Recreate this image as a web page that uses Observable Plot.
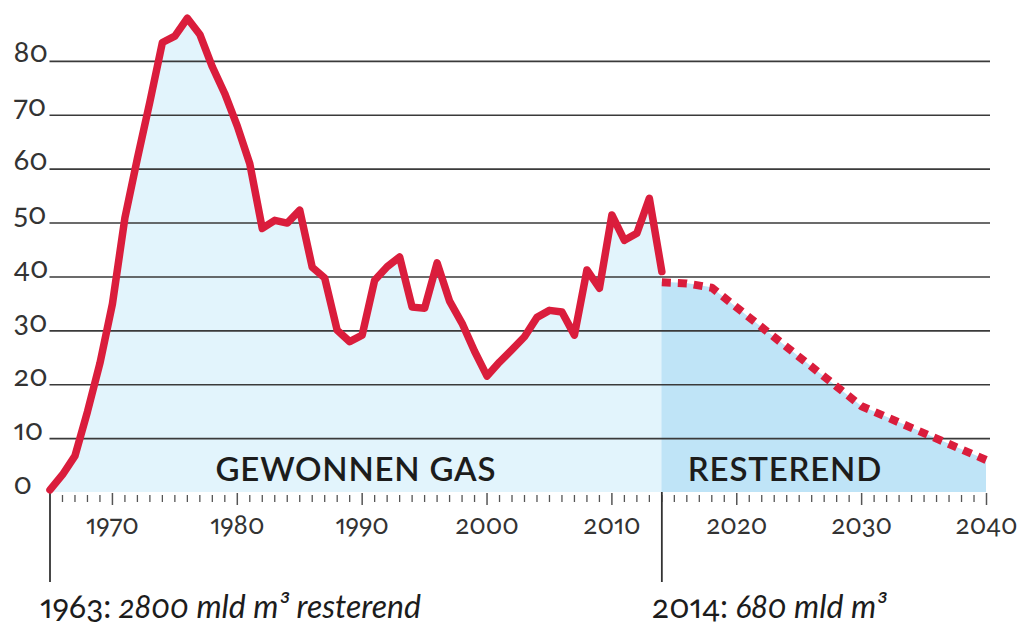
<!DOCTYPE html>
<html>
<head>
<meta charset="utf-8">
<script src="https://cdn.jsdelivr.net/npm/d3@7"></script>
<script src="https://cdn.jsdelivr.net/npm/@observablehq/plot@0.6"></script>
<style>
  html, body { margin: 0; padding: 0; background: #fff; }
  svg text { font-variant-numeric: oldstyle-nums proportional-nums; }
</style>
</head>
<body>
<div id="chart"></div>
<script>
// Historic production (mld m³ per year)
const histYears = d3.range(1965, 2015);
const histValues = [
  0.5, 3.3, 6.8, 15, 24, 35, 51, 62, 72.5, 83.5,
  84.7, 88, 85, 79, 74, 68, 61, 49, 50.5, 50,
  52.4, 41.8, 39.8, 30.1, 28, 29.2, 39.4, 41.9, 43.7, 34.4,
  34.2, 42.6, 35.5, 31.4, 26.2, 21.6, 24.2, 26.5, 28.9, 32.5,
  33.8, 33.5, 29.2, 41.3, 37.9, 51.5, 46.8, 48.1, 54.6, 41
];
// Remaining (forecast)
const futYears = [2014, 2016, 2018, 2030, 2040];
const futValues = [39, 38.8, 38, 16, 6];

const yTicks = [0, 10, 20, 30, 40, 50, 60, 70, 80];
const gridValues = [10, 20, 30, 40, 50, 60, 70, 80];
const decadeTicks = [1970, 1980, 1990, 2000, 2010, 2020, 2030, 2040];
const labelHist = "GEWONNEN GAS";
const labelFut = "RESTEREND";
const annYears = [1963, 2014];
const annRemaining = [2800, 680];
const annSuffix = [" resterend", ""];

const hist = histYears.map((year, i) => ({year, value: histValues[i]}));
const fut = futYears.map((year, i) => ({year, value: futValues[i]}));
const minorTicks = d3.range(histYears[0] + 1, 2041).filter(y => y % 10 !== 0);
const ann = [
  {x: histYears[0], text: `${annYears[0]}: ${annRemaining[0]} mld m³${annSuffix[0]}`},
  {x: histYears[histYears.length - 1], text: `${annYears[1]}: ${annRemaining[1]} mld m³${annSuffix[1]}`}
];

const red = "#da1d3c";

const plot = Plot.plot({
  width: 1018,
  height: 625,
  marginLeft: 49.5,
  marginRight: 32,
  marginTop: 7,
  marginBottom: 133,
  style: {fontFamily: "Lato, 'Open Sans', sans-serif", fontSize: "22px", color: "#333", background: "#fff"},
  x: {domain: [1965, 2040]},
  y: {domain: [0, 90]},
  marks: [
    Plot.areaY(hist, {x: "year", y: "value", fill: "#e2f4fc"}),
    Plot.areaY(fut, {x: "year", y: "value", fill: "#bfe4f7"}),
    Plot.ruleY(gridValues, {stroke: "#3a3a3a", strokeWidth: 1.6, insetRight: -4}),
    Plot.ruleX(minorTicks, {stroke: "#555", strokeWidth: 1.3, insetTop: 488, insetBottom: -10}),
    Plot.ruleX(decadeTicks, {stroke: "#555", strokeWidth: 1.5, insetTop: 486, insetBottom: -13}),
    Plot.ruleX([histYears[0], histYears[histYears.length - 1]], {stroke: "#333", strokeWidth: 1.8, insetTop: 485, insetBottom: -90}),
    Plot.axisY(yTicks, {tickSize: 0, tickPadding: 0, textAnchor: "start", dx: -36.5, lineAnchor: "bottom", dy: 1, fontSize: 29, fill: "#333", label: null}),
    Plot.axisX(decadeTicks, {tickSize: 0, tickPadding: 41, lineAnchor: "bottom", fontSize: 26, fill: "#333", label: null, tickFormat: d => String(d)}),
    Plot.text([labelHist], {x: () => d3.mean(d3.extent(histYears)), text: d => d, frameAnchor: "bottom", lineAnchor: "bottom", dy: -12, fontSize: 33, fontWeight: 600, fill: "#1c1c1c"}),
    Plot.text([labelFut], {x: () => histYears[histYears.length - 1], text: d => d, frameAnchor: "bottom", lineAnchor: "bottom", textAnchor: "start", dx: 26, dy: -12, fontSize: 33, fontWeight: 600, fill: "#1c1c1c"}),
    Plot.text(ann, {x: "x", text: "text", frameAnchor: "bottom", lineAnchor: "bottom", textAnchor: "start", dx: -10, dy: 125, fontSize: 32, fill: "#1c1c1c"}),
    Plot.line(hist, {x: "year", y: "value", stroke: red, strokeWidth: 7.5, strokeLinejoin: "round", strokeLinecap: "round"}),
    Plot.line(fut, {x: "year", y: "value", stroke: red, strokeWidth: 8, strokeDasharray: "9,7", strokeLinejoin: "miter", strokeLinecap: "butt"})
  ]
});

d3.select(plot).selectAll("text").each(function() {
  const t = this.textContent;
  if (t === labelHist || t === labelFut) this.setAttribute("letter-spacing", "0.8");
  const m = /^(\d{4}:)(.*)$/.exec(t);
  if (m && t.includes("mld")) {
    const sel = d3.select(this);
    sel.text(null);
    sel.append("tspan").text(m[1]);
    sel.append("tspan").attr("font-style", "italic").text(m[2]);
  }
});

document.getElementById("chart").appendChild(plot);
</script>
</body>
</html>
